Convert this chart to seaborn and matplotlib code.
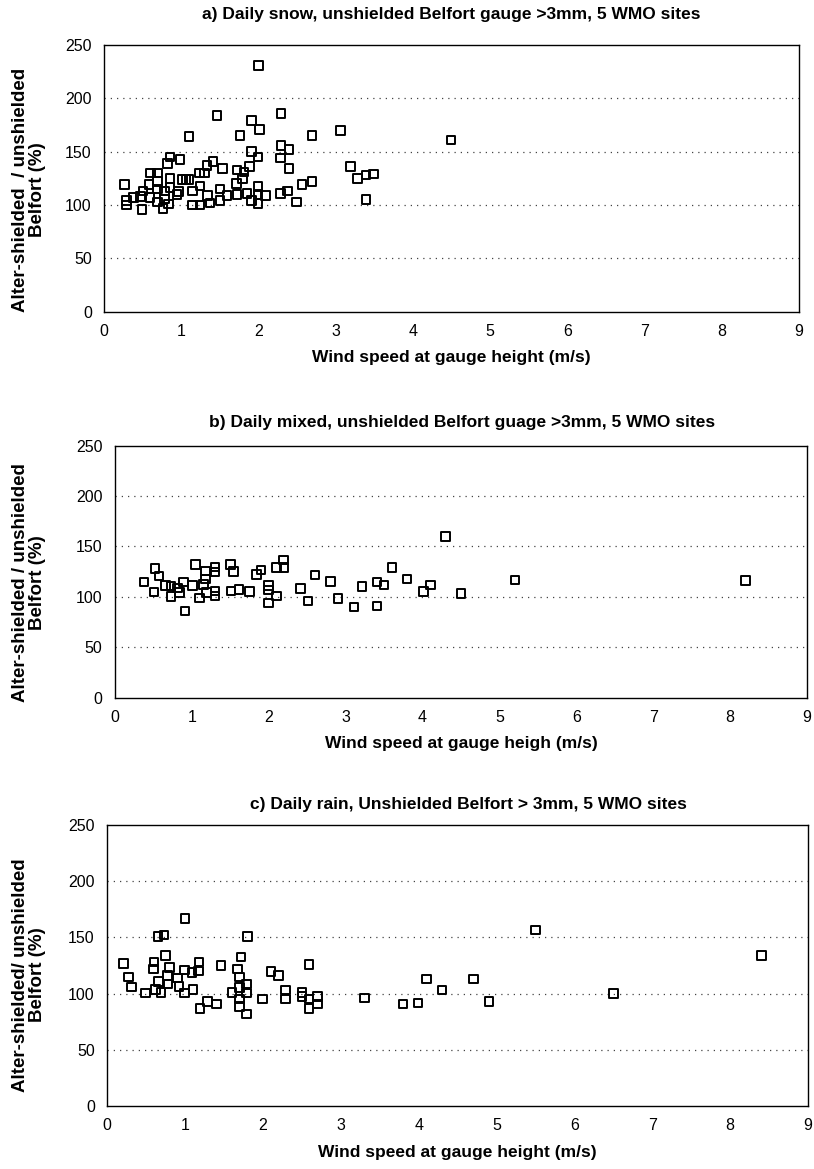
import matplotlib
matplotlib.use("Agg")
import matplotlib.pyplot as plt
import seaborn as sns
import pandas as pd

# --- a) daily snow -------------------------------------------------------
snow_wind = [2.00, 1.46, 2.29, 1.91, 2.01, 1.10, 1.76, 2.69, 3.06,
             3.19, 3.28, 3.39, 3.49, 3.39, 4.49,
             1.91, 1.99, 2.29, 2.39, 2.28, 2.39, 0.85, 0.98, 0.82, 1.41,
             1.33, 1.53, 1.23, 1.30, 0.60, 0.69, 1.72, 1.88, 1.81, 1.79,
             1.71, 0.85, 1.01, 1.06, 1.10, 0.26, 0.50, 0.58, 0.69, 0.69,
             0.78, 0.85, 0.96, 1.24, 1.14, 1.50, 1.50, 1.34, 1.37, 1.24,
             1.14, 1.59, 1.72, 1.85, 1.99, 1.99, 2.09, 1.91, 1.99, 2.28,
             2.37, 2.49, 2.56, 2.69, 0.29, 0.29, 0.38, 0.47, 0.49, 0.59,
             0.69, 0.76, 0.83, 0.94, 0.78]
snow_ratio = [231, 184, 186, 179, 171, 164, 165, 165, 170,
              136, 125, 128, 129, 105, 161,
              150, 145, 156, 152, 144, 134, 145, 142.5, 139, 141,
              137, 134, 130, 130, 130, 130, 133, 136, 131, 125,
              120, 125, 124, 124, 124, 119, 113, 119, 122, 115,
              113, 116.5, 112.5, 118, 113, 115, 104, 109, 102, 100,
              100, 109, 110, 111, 117.5, 110, 109, 104, 101.5, 111,
              113, 103, 119, 122, 104, 100, 107, 108, 96, 107,
              103, 97, 101, 110, 105.6]

# --- b) daily mixed ------------------------------------------------------
mixed_wind = [0.38, 0.52, 0.57, 0.51, 0.66, 0.73, 0.73, 0.81, 0.84, 0.89,
              0.91, 1.01, 1.05, 1.10, 1.15, 1.19, 1.18, 1.18, 1.30, 1.30,
              1.30, 1.30, 1.50, 1.54, 1.51, 1.61, 1.75, 1.84, 1.90, 2.00,
              2.00, 2.00, 2.10, 2.10, 2.20, 2.19, 2.41, 2.51, 2.60, 2.80,
              2.90, 3.11, 3.21, 3.41, 3.41, 3.50, 3.60, 3.80, 4.01, 4.10,
              4.30, 4.50, 5.20, 8.20]
mixed_ratio = [114.7, 128, 120.7, 104.7, 111, 100, 110.5, 108.7, 104, 114.7,
               85.7, 111, 132, 98.7, 112, 104, 117.7, 125.7, 124.7, 129.7,
               105.7, 100.7, 132.3, 125, 105.7, 107, 105.3, 122.3, 126.7, 111,
               106.7, 94, 100.7, 129, 129, 136.7, 108.3, 95.7, 121.7, 115.3,
               98.3, 90, 110, 114.7, 90.7, 111.5, 129, 117.7, 105.3, 111.7,
               160, 103, 116.7, 116]

# --- c) daily rain -------------------------------------------------------
rain_wind = [1.00, 0.65, 0.73, 1.80, 0.75, 0.21, 0.60, 0.59, 0.80, 0.99,
             1.18, 1.17, 1.09, 1.46, 1.72, 1.67, 1.70, 1.79, 1.70, 1.79,
             1.60, 1.70, 1.70, 1.79, 0.27, 0.31, 0.49, 0.62, 0.66, 0.69,
             0.77, 0.78, 0.90, 0.92, 0.99, 1.10, 1.19, 1.29, 1.40, 1.99,
             2.10, 2.20, 2.29, 2.29, 2.50, 2.50, 2.59, 2.59, 2.59, 2.70,
             2.70, 3.30, 3.80, 3.99, 4.10, 4.30, 4.70, 4.90, 5.50, 6.50,
             8.40]
rain_ratio = [167, 150.6, 152, 150.6, 134, 127, 128, 122, 123, 121,
              128, 120, 119, 125, 132.6, 122, 114.7, 108.5, 105.6, 100.6,
              101, 95.3, 88.5, 81.8, 114.7, 106, 100.6, 103.5, 111, 101,
              116, 108.5, 114, 106.5, 100.6, 103.5, 86.8, 93, 90.6, 95.3,
              119.7, 115.9, 103.2, 95.3, 101, 97.6, 125.9, 95.3, 86.8, 97.6,
              90.6, 95.9, 90.6, 91.8, 113, 103.2, 113, 93, 156.5, 100.3,
              134]

x_ticks = list(range(0, 10))
y_ticks = [0, 50, 100, 150, 200, 250]

panels = [
    dict(x=snow_wind, y=snow_ratio,
         title="a) Daily snow, unshielded Belfort gauge >3mm, 5 WMO sites",
         xlabel="Wind speed at gauge height (m/s)",
         ylabel="Alter-shielded  / unshielded\nBelfort (%)",
         rect=[104.3, 45.0, 799.0, 311.7], title_xy=(451, 15), ylab_y=190),
    dict(x=mixed_wind, y=mixed_ratio,
         title="b) Daily mixed, unshielded Belfort guage >3mm, 5 WMO sites",
         xlabel="Wind speed at gauge heigh (m/s)",
         ylabel="Alter-shielded / unshielded\nBelfort (%)",
         rect=[115.0, 445.7, 807.0, 697.5], title_xy=(462, 423), ylab_y=583),
    dict(x=rain_wind, y=rain_ratio,
         title="c) Daily rain, Unshielded Belfort > 3mm, 5 WMO sites",
         xlabel="Wind speed at gauge height (m/s)",
         ylabel="Alter-shielded/ unshielded\nBelfort (%)",
         rect=[107.3, 825.0, 808.0, 1106.0], title_xy=(468, 805), ylab_y=975),
]

sns.set_theme(style="white")
plt.rcParams["font.family"] = ["Liberation Sans", "DejaVu Sans"]

W, H = 814, 1169
fig = plt.figure(figsize=(W / 100, H / 100), dpi=100)
fig.patch.set_facecolor("white")

for p in panels:
    x0, y0, x1, y1 = p["rect"]
    ax = fig.add_axes([x0 / W, 1 - y1 / H, (x1 - x0) / W, (y1 - y0) / H])
    df = pd.DataFrame({"wind": p["x"], "ratio": p["y"]})
    sns.scatterplot(data=df, x="wind", y="ratio", marker="s", s=38,
                    color="black", linewidth=1.4, ax=ax, zorder=3)
    pts = ax.collections[-1]
    pts.set_facecolor("none")
    pts.set_edgecolor("black")

    ax.set_xlim(0, 9)
    ax.set_ylim(0, 250)
    ax.set_xticks(x_ticks)
    ax.set_yticks(y_ticks)
    ax.tick_params(axis="both", direction="out", length=5, width=1,
                   color="black", labelsize=11.5, labelcolor="black", pad=4)
    for yv in y_ticks[1:-1]:
        ax.axhline(yv, color="#444444", linewidth=0.9,
                   linestyle=(0, (1, 4)), zorder=1)
    for side in ["left", "bottom", "top", "right"]:
        ax.spines[side].set_visible(True)
        ax.spines[side].set_color("black")
        ax.spines[side].set_linewidth(1.0)
    ax.set_facecolor("white")
    ax.set_xlabel(p["xlabel"], fontsize=12.5, fontweight="bold",
                  color="black", labelpad=8)
    ax.set_ylabel("")

    tx, ty = p["title_xy"]
    fig.text(tx / W, 1 - ty / H, p["title"], ha="center", va="center",
             fontsize=12.5, fontweight="bold", color="black")
    fig.text(29 / W, 1 - p["ylab_y"] / H, p["ylabel"], rotation=90,
             ha="center", va="center", multialignment="center",
             fontsize=13.5, fontweight="bold", color="black",
             linespacing=1.05)

fig.savefig("out.png", dpi=100, facecolor="white")
